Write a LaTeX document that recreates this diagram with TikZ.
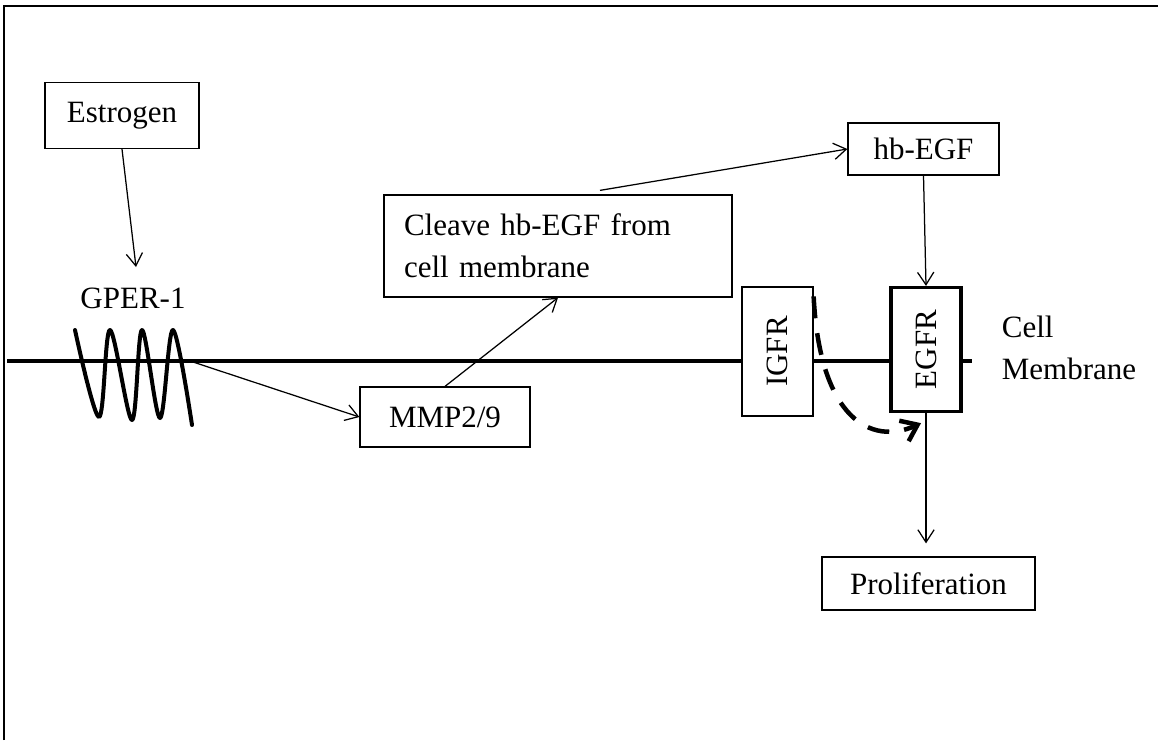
\documentclass[tikz,border=0pt]{standalone}
\usepackage{fontspec}
\setmainfont{Liberation Serif}
\usetikzlibrary{arrows.meta}
\begin{document}
\begin{tikzpicture}[x=0.4pt,y=-0.4pt,
		font=\fontsize{12.4}{16.8}\selectfont,
		box/.style={draw=black,line width=0.5pt,fill=white,inner sep=0pt},
		arr/.style={draw=black,line width=0.5pt,-{Straight Barb[length=5pt,width=6.5pt]}},
		membrane/.style={line width=1.3pt},
		coil/.style={line width=1.6pt,line join=round,line cap=round}]
		\useasboundingbox (0,0) rectangle (1158,740);
		% frame and membrane
		\draw [black,line width=0.8pt] (4,740) -- (4,6) -- (1158,6);
		\draw [black,membrane] (7,361) -- (972,361);
		% receptor coil
		\draw [black,coil] plot[smooth,tension=0.55] coordinates {(75,330) (99,417) (110,330) (132,420) (142,330) (160,418) (173,330) (192,425)};
		\coordinate (gpertop) at (136,267);
		\coordinate (gperout) at (193,362);
		\node (gper) at (133,298) {GPER-1};
		% boxes
		\node [box,minimum width=61.6pt,minimum height=26.4pt] (estrogen) at (122,115.5) {Estrogen};
		\node [box,minimum width=68pt,minimum height=24pt] (mmp) at (445,417) {MMP2/9};
		\node [box,minimum width=139.2pt,minimum height=40.8pt,text width=123.2pt,inner xsep=8pt,align=left] (cleave) at (558,246) {Cleave hb-EGF from\\cell membrane};
		\node [box,minimum width=60.4pt,minimum height=20.8pt] (hbegf) at (923.5,149) {hb-EGF};
		\node [box,minimum width=28.4pt,minimum height=51.6pt,label={[rotate=90]center:IGFR}] (igfr) at (777.5,351.5) {};
		\node [box,line width=1.3pt,minimum width=28pt,minimum height=49.6pt,label={[rotate=90]center:EGFR}] (egfr) at (926,349.5) {};
		\node [box,minimum width=85.2pt,minimum height=21.2pt] (prolif) at (928.5,583.5) {Proliferation};
		\node [anchor=west,align=left] (cellmem) at (993,348) {Cell\\Membrane};
		% arrows
		\draw [arr] (estrogen.south) -- (gpertop);
		\draw [arr] (gperout) -- (mmp.west);
		\draw [arr] (mmp.north) -- (cleave.south);
		\draw [arr] ([xshift=16.8pt,yshift=1.6pt]cleave.north) -- (hbegf.west);
		\draw [arr] (hbegf.south) -- (egfr.north);
		\draw [arr,shorten >=5.2pt] (egfr.south) -- (egfr.south |- prolif.north);
		\draw [black,line width=1.8pt,dash pattern=on 8.8pt off 6pt,-{Straight Barb[length=6pt,width=9pt]}] ([yshift=-4pt]igfr.north east) .. controls +(6,122) and +(-50,23) .. ([xshift=-2pt,yshift=-4pt]egfr.south);
	\end{tikzpicture}
\end{document}
